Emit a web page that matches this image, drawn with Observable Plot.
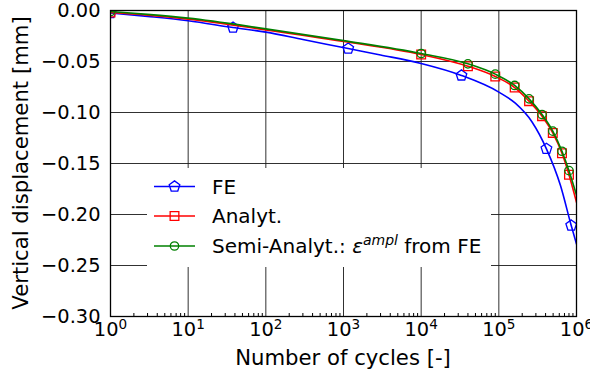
<!DOCTYPE html>
<html><head><meta charset="utf-8">
<script src="https://cdn.jsdelivr.net/npm/d3@7"></script>
<script src="https://cdn.jsdelivr.net/npm/@observablehq/plot@0.6"></script>
<style>
body{margin:0;background:#fff;}
#chart{width:590px;height:376px;}
#chart svg{font-family:"DejaVu Sans",sans-serif;}
</style></head><body><div id="chart"></div>
<script>
// ---- data ----
const feN   = [1, 3, 10, 37.8, 100, 300, 1150, 3000, 10000, 33000, 100000, 163000, 269000, 410000, 622000, 855000, 1000000];
const feU   = [-0.0025, -0.0058, -0.0100, -0.0167, -0.0212, -0.0284, -0.0373, -0.0436, -0.0520, -0.0637, -0.0800, -0.0909, -0.1095, -0.1356, -0.1716, -0.2108, -0.2290];
const feMarkN = [1, 37.8, 1150, 33000, 410000, 855000];
const feMarkU = [-0.0025, -0.0167, -0.0373, -0.0637, -0.1356, -0.2108];

const anN   = [1, 3, 10, 100, 1000, 10000, 40000, 90000, 160000, 245000, 360000, 495000, 650000, 800000, 1000000];
const anU   = [-0.0020, -0.0046, -0.0085, -0.0190, -0.0303, -0.0431, -0.0546, -0.0647, -0.0755, -0.0889, -0.1036, -0.1200, -0.1400, -0.1610, -0.1880];
const anMarkN = [1, 10000, 40000, 90000, 160000, 245000, 360000, 495000, 650000, 800000];
const anMarkU = [-0.0020, -0.0431, -0.0546, -0.0647, -0.0755, -0.0889, -0.1036, -0.1200, -0.1400, -0.1610];

const saN   = [1, 3, 10, 100, 1000, 10000, 40000, 90000, 160000, 245000, 360000, 495000, 650000, 800000, 1000000];
const saU   = [-0.0010, -0.0038, -0.0075, -0.0180, -0.0295, -0.0422, -0.0523, -0.0624, -0.0735, -0.0866, -0.1020, -0.1183, -0.1380, -0.1570, -0.1810];
const saMarkN = [1, 10000, 40000, 90000, 160000, 245000, 360000, 495000, 650000, 800000];
const saMarkU = [-0.0010, -0.0422, -0.0523, -0.0624, -0.0735, -0.0866, -0.1020, -0.1183, -0.1380, -0.1570];

const xMajor = [1, 10, 100, 1000, 10000, 100000, 1000000];
const xMinor = [];
for (let e = 0; e < 6; e++) for (let m = 2; m <= 9; m++) xMinor.push(m * Math.pow(10, e));
const yMajor = [0, -0.05, -0.10, -0.15, -0.20, -0.25, -0.30];

const seriesNames = ["FE", "Analyt.", "Semi-Analyt.: "];
const xTitle = "Number of cycles [-]";
const yTitle = "Vertical displacement [mm]";
const colors = ["#0000ff", "#ff0000", "#008000"];

const zip = (N, U) => N.map((n, i) => ({n, u: U[i]}));

const pentagon = {
  draw(ctx, size) {
    const R = Math.sqrt(size / Math.PI);
    for (let i = 0; i < 5; i++) {
      const a = -Math.PI / 2 + i * 2 * Math.PI / 5;
      const x = R * Math.cos(a), y = R * Math.sin(a);
      if (i) ctx.lineTo(x, y); else ctx.moveTo(x, y);
    }
    ctx.closePath();
  }
};

const lw = 1.6;
const tickFont = 19.4;
const legendFont = 20;
const labelFont = 21.2;

const chart = Plot.plot({
  width: 590, height: 376,
  marginLeft: 110, marginRight: 14, marginTop: 10, marginBottom: 60,
  style: {fontFamily: "DejaVu Sans, sans-serif", background: "#fff", color: "#000"},
  x: {type: "log", domain: [1, 1e6], axis: null},
  y: {domain: [-0.30, 0], axis: null},
  marks: [
    Plot.gridX(xMajor, {stroke: "#1a1a1a", strokeOpacity: 1, strokeWidth: 0.9}),
    Plot.gridY(yMajor, {stroke: "#1a1a1a", strokeOpacity: 1, strokeWidth: 0.9}),
    Plot.line(zip(feN, feU), {x: "n", y: "u", stroke: colors[0], strokeWidth: lw, curve: "monotone-x", clip: true}),
    Plot.dot(zip(feMarkN, feMarkU), {x: "n", y: "u", symbol: pentagon, r: 5.6, stroke: colors[0], strokeWidth: 1.3, fill: "none", clip: true}),
    Plot.line(zip(anN, anU), {x: "n", y: "u", stroke: colors[1], strokeWidth: lw, curve: "monotone-x", clip: true}),
    Plot.dot(zip(anMarkN, anMarkU), {x: "n", y: "u", symbol: "square", r: 4.9, stroke: colors[1], strokeWidth: 1.3, fill: "none", clip: true}),
    Plot.line(zip(saN, saU), {x: "n", y: "u", stroke: colors[2], strokeWidth: lw, curve: "monotone-x", clip: true}),
    Plot.dot(zip(saMarkN, saMarkU), {x: "n", y: "u", symbol: "circle", r: 4.2, stroke: colors[2], strokeWidth: 1.3, fill: "none", clip: true}),
    Plot.frame({stroke: "#000", strokeWidth: 1.3}),
    Plot.axisX(xMajor, {anchor: "bottom", tickSize: 0, tickPadding: 6, fontSize: tickFont, label: null,
      tickFormat: d => "10|" + Math.round(Math.log10(d))}),
    Plot.axisX(xMinor, {anchor: "bottom", tickSize: -3, tickFormat: () => "", label: null}),
    Plot.axisY(yMajor, {anchor: "left", tickSize: 0, tickPadding: 10, fontSize: tickFont, label: null,
      tickFormat: d => d === 0 ? "0.00" : "\u2212" + (-d).toFixed(2)})
  ]
});
document.getElementById("chart").appendChild(chart);

const svg = d3.select(chart);

// superscript exponents on the x tick labels
svg.selectAll('g[aria-label="x-axis tick label"] text').each(function() {
  const t = d3.select(this);
  const s = t.text();
  if (!s.includes("|")) return;
  const [base, exp] = s.split("|");
  t.text(null);
  t.append("tspan").text(base);
  t.append("tspan").attr("dy", -7.5).attr("font-size", "0.7em").text(exp);
});

// axis titles
svg.append("text").attr("x", 343).attr("y", 364.5).attr("text-anchor", "middle")
  .attr("font-size", labelFont).attr("fill", "#000").text(xTitle);
svg.append("text").attr("transform", "translate(28,163) rotate(-90)").attr("text-anchor", "middle")
  .attr("font-size", labelFont).attr("fill", "#000").text(yTitle);

// legend (inside the axes, lower left)
const lg = svg.append("g").attr("class", "legend");
lg.append("rect").attr("x", 147).attr("y", 168).attr("width", 344).attr("height", 99).attr("fill", "#fff");
const rows = [186.5, 216, 246];
const syms = [d3.symbol(pentagon, Math.PI * 5.6 * 5.6), d3.symbol(d3.symbolSquare, Math.PI * 4.9 * 4.9), d3.symbol(d3.symbolCircle, Math.PI * 4.2 * 4.2)];
rows.forEach((yy, i) => {
  lg.append("line").attr("x1", 154).attr("x2", 195).attr("y1", yy).attr("y2", yy)
    .attr("stroke", colors[i]).attr("stroke-width", lw);
  lg.append("path").attr("d", syms[i]()).attr("transform", `translate(174.5,${yy})`)
    .attr("fill", "none").attr("stroke", colors[i]).attr("stroke-width", 1.3);
  const t = lg.append("text").attr("x", 212).attr("y", yy + 7).attr("font-size", legendFont)
    .attr("text-anchor", "start").attr("fill", "#000").style("white-space", "pre");
  t.append("tspan").text(seriesNames[i]);
  if (i === 2) {
    t.append("tspan").attr("font-style", "italic").text("\u03b5");
    t.append("tspan").attr("font-style", "italic").attr("font-size", "0.7em").attr("dy", -8).text("ampl");
    t.append("tspan").attr("dy", 8).text(" from FE");
  }
});
</script>
</body></html>
